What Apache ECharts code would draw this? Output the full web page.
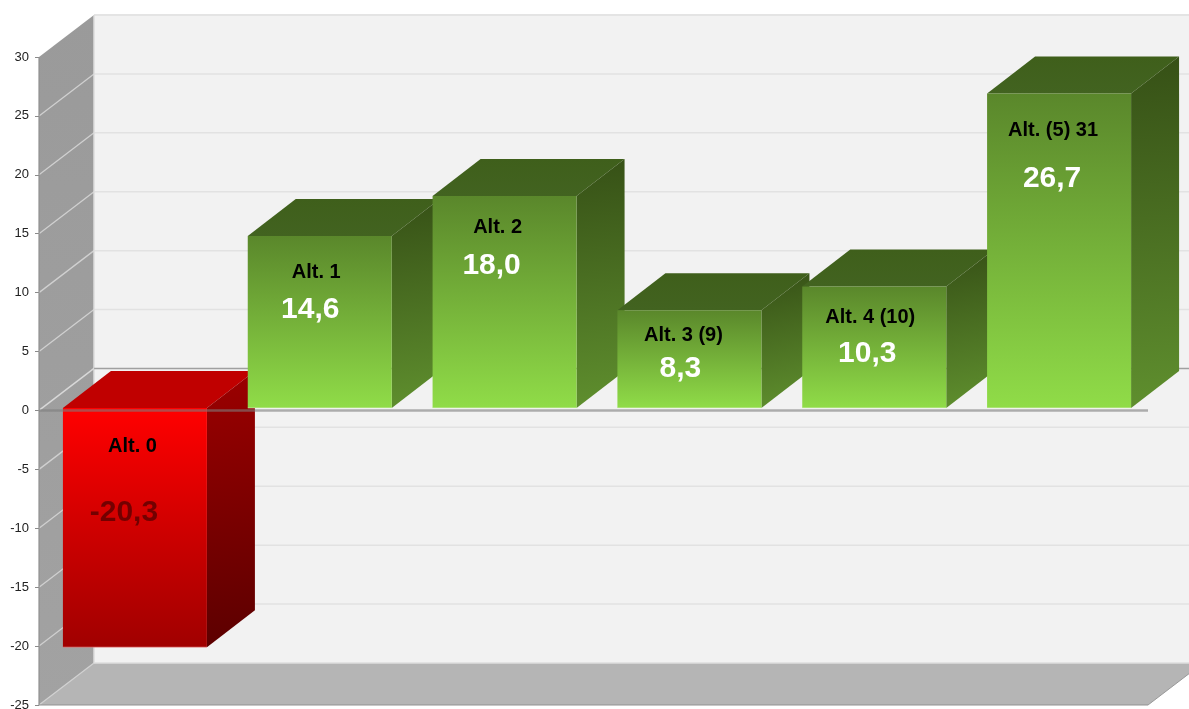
<!DOCTYPE html>
<html>
<head>
<meta charset="utf-8">
<style>html,body{margin:0;padding:0;background:#fff}#c{width:1189px;height:709px}</style>
<script src="https://cdn.jsdelivr.net/npm/echarts@6/dist/echarts.min.js"></script>
</head>
<body>
<div id="c"></div>
<script>
const categories = ['Alt. 0', 'Alt. 1', 'Alt. 2', 'Alt. 3 (9)', 'Alt. 4 (10)', 'Alt. (5) 31'];
const values = [-20.3, 14.6, 18.0, 8.3, 10.3, 26.7];
const valueLabels = ['-20,3', '14,6', '18,0', '8,3', '10,3', '26,7'];
const gridTicks = [30, 25, 20, 15, 10, 5, 0, -5, -10, -15, -20, -25];

// text placement relative to the bar's front face: [dx, dy] from top centre
const nameOffsets = [[-2.5, 39], [-3.5, 37], [-7, 32], [-6, 25], [-4, 31], [-6, 37]];
const valueOffsets = [[-11, 105], [-9.5, 74], [-13, 70], [-9, 59], [-7, 67], [-7, 85]];

const WALL = [55, -42];       // depth of the chart box
const BAR_DEPTH = [48, -37];  // depth of each bar
const BAR_W = 144, BAR_SHIFT = [3.5, -2.5];

function grad(x2, y2, a, b) {
  return new echarts.graphic.LinearGradient(0, 0, x2, y2, [{offset: 0, color: a}, {offset: 1, color: b}]);
}
function poly(points, fill, extra) {
  return Object.assign({type: 'polygon', shape: {points}, style: {fill, stroke: null}}, extra || {});
}
function line(x1, y1, x2, y2, stroke, w) {
  return {type: 'line', shape: {x1, y1, x2, y2}, style: {stroke, lineWidth: w, fill: null}};
}

function renderFrame(params, api) {
  const cs = params.coordSys;
  const L = cs.x, R = cs.x + cs.width, T = cs.y, B = cs.y + cs.height;
  const dx = WALL[0], dy = WALL[1];
  const ch = [];
  ch.push({type: 'rect', shape: {x: L + dx, y: T + dy, width: cs.width, height: cs.height}, style: {fill: '#f2f2f2'}});
  ch.push(line(L + dx, T + dy, R + dx, T + dy, '#e4e4e4', 2));
  ch.push(poly([[L, T], [L + dx, T + dy], [L + dx, B + dy], [L, B]], grad(0, 1, '#9a9a9a', '#a2a2a2')));
  ch.push(poly([[L, B], [L + dx, B + dy], [R + dx, B + dy], [R, B]], '#b5b5b5'));
  gridTicks.forEach(function (t) {
    const y = api.coord([0, t])[1];
    if (t !== 30 && t !== -25 && t !== 0) {
      ch.push(line(L + dx, y + dy, R + dx, y + dy, '#e2e2e2', 1.5));
    }
    if (t !== 30 && t !== 0) {
      ch.push(line(L, y, L + dx, y + dy, '#d0d0d0', 1.3));
    }
  });
  ch.push(line(L + dx, T + dy, L + dx, B + dy, '#dcdcdc', 1.5));
  ch.push(line(L + dx, B + dy, R + dx, B + dy, '#dedede', 1.5));
  const z = api.coord([0, 0])[1];
  ch.push(line(L + dx, z + dy, R + dx, z + dy, '#a0a0a0', 1.5));
  ch.push(line(L, z, L + dx, z + dy, '#d8d8d8', 1.5));
  ch.push(line(L, T, L, B, '#919191', 1.2));
  ch.push(line(L, B, R, B, '#919191', 1.2));
  ch.push(line(R, B, R + dx, B + dy, '#999999', 1));
  return {type: 'group', children: ch};
}

function renderBar(params, api) {
  const i = api.value(0), v = api.value(1);
  const top = api.coord([i, Math.max(v, 0)]);
  const bot = api.coord([i, Math.min(v, 0)]);
  const x0 = top[0] - BAR_W / 2 + BAR_SHIFT[0], x1 = x0 + BAR_W;
  const y0 = top[1] + BAR_SHIFT[1], y1 = bot[1] + BAR_SHIFT[1];
  const dx = BAR_DEPTH[0], dy = BAR_DEPTH[1];
  const neg = v < 0;
  const front = neg ? grad(0, 1, '#ff0000', '#a00000') : grad(0, 1, '#5a872b', '#90dc48');
  const topFace = neg ? '#c00000' : grad(0, 1, '#3f5f1b', '#426320');
  const side = neg ? grad(0.6, 1, '#9c0000', '#5c0000') : grad(0.6, 1, '#365016', '#5f8f2e');
  const edge = neg ? 'rgba(255,170,170,0.5)' : 'rgba(235,245,225,0.55)';
  const cx = (x0 + x1) / 2;
  const nameOff = nameOffsets[i], valOff = valueOffsets[i];
  return {
    type: 'group',
    children: [
      poly([[x0, y0], [x0 + dx, y0 + dy], [x1 + dx, y0 + dy], [x1, y0]], topFace),
      poly([[x1, y0], [x1 + dx, y0 + dy], [x1 + dx, y1 + dy], [x1, y1]], side),
      {type: 'rect', shape: {x: x0, y: y0, width: BAR_W, height: y1 - y0}, style: {fill: front}},
      line(x0, y1, x1, y1, edge, 1),
      {type: 'text', style: {text: categories[i], x: cx + nameOff[0], y: y0 + nameOff[1], align: 'center', verticalAlign: 'middle',
        font: 'bold 20px "Liberation Sans", Arial, sans-serif', fill: '#000'}},
      {type: 'text', style: {text: valueLabels[i], x: cx + valOff[0], y: y0 + valOff[1], align: 'center', verticalAlign: 'middle',
        font: 'bold 30px "Liberation Sans", Arial, sans-serif', fill: neg ? '#730000' : '#fff'}}
    ]
  };
}

function renderZero(params, api) {
  const cs = params.coordSys;
  const z = api.coord([0, 0])[1];
  return line(cs.x, z, cs.x + cs.width, z, 'rgba(125,125,125,0.6)', 2.5);
}

const chart = echarts.init(document.getElementById('c'), null, {renderer: 'canvas', width: 1189, height: 709});
chart.setOption({
  animation: false,
  backgroundColor: '#ffffff',
  grid: {left: 39, right: 41, top: 57, bottom: 4, containLabel: false, outerBoundsMode: 'none'},
  xAxis: {type: 'category', data: categories, axisLabel: {show: false}, axisTick: {show: false}, axisLine: {show: false}, splitLine: {show: false}},
  yAxis: {
    type: 'value', min: -25, max: 30, interval: 5,
    axisLine: {show: false},
    axisTick: {show: true, length: 4, lineStyle: {color: '#8a8a8a', width: 1}},
    axisLabel: {margin: 10, color: '#222', fontSize: 13, padding: [2, 0, 0, 0], fontFamily: '"Liberation Sans", Arial, sans-serif'},
    splitLine: {show: false}
  },
  series: [
    {type: 'custom', z: 1, silent: true, data: [[0, 0]], renderItem: renderFrame},
    {type: 'custom', z: 2, silent: true, data: values.map(function (v, i) { return [i, v]; }), encode: {x: 0, y: 1}, renderItem: renderBar},
    {type: 'custom', z: 3, silent: true, data: [[0, 0]], renderItem: renderZero}
  ]
});
</script>
</body>
</html>
